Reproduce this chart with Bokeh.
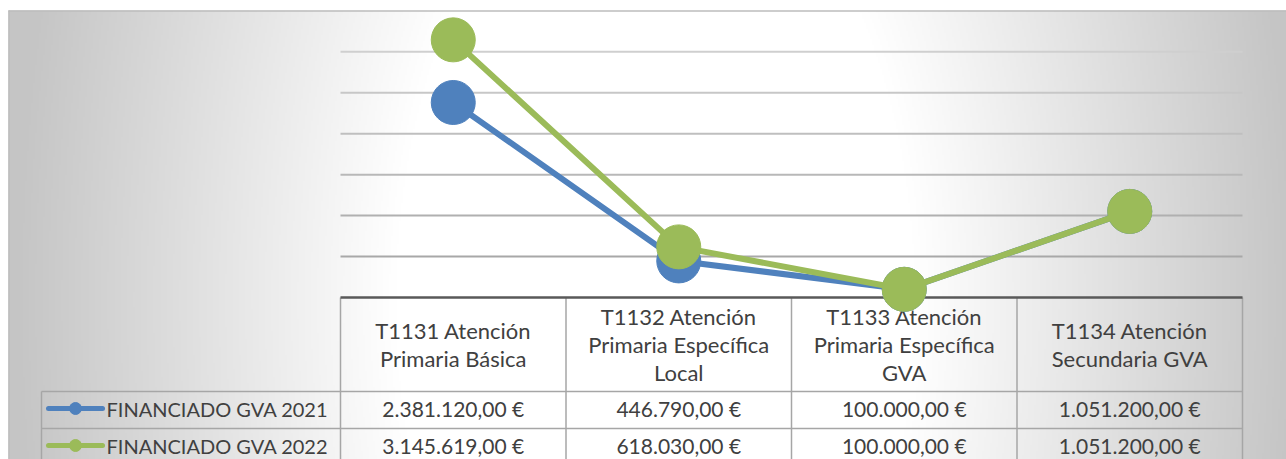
import numpy as np
from bokeh.plotting import figure
from bokeh.models import Range1d
from bokeh.embed import file_html
from bokeh.resources import INLINE
from bokeh.core.properties import value

# ---------------- data ----------------
categories = [
    "T1131 Atención\nPrimaria Básica",
    "T1132 Atención\nPrimaria Específica\nLocal",
    "T1133 Atención\nPrimaria Específica\nGVA",
    "T1134 Atención\nSecundaria GVA",
]
series_names = ["FINANCIADO GVA 2021", "FINANCIADO GVA 2022"]
gva_2021 = [2381120.00, 446790.00, 100000.00, 1051200.00]
gva_2022 = [3145619.00, 618030.00, 100000.00, 1051200.00]
grid_values = [500000, 1000000, 1500000, 2000000, 2500000, 3000000]

series = [gva_2021, gva_2022]
colors = ["#4F81BD", "#9BBB59"]
FONT = value("Lato")
TXT = "#404040"


def euro(v):
    s = f"{v:,.2f}"
    return s.replace(",", "X").replace(".", ",").replace("X", ".") + " €"


# ---------------- geometry (canvas pixels) ----------------
W, H = 1286, 459
COL0, COLW = 452.75, 225.5      # centre of first category column, column width
Y0, PPM = 297.0, 81.9          # canvas y of value 0, pixels per million


def X(px):
    return (px - COL0) / COLW


def T(py):  # canvas y -> table range
    return H - py


ymax = Y0 / PPM * 1e6
ymin = -(H - Y0) / PPM * 1e6

p = figure(width=W, height=H, x_range=Range1d(X(0), X(W)),
           y_range=Range1d(ymin, ymax), output_backend="svg",
           toolbar_location=None, x_axis_location=None, y_axis_location=None,
           min_border=0, min_border_left=0, min_border_right=0,
           min_border_top=0, min_border_bottom=0,
           background_fill_color="white", border_fill_color="white",
           outline_line_color=None)
p.extra_y_ranges = {"py": Range1d(0, H)}
p.grid.visible = False

# ---------------- background gradient ----------------
top, left = 10, 8
rows, cols = 225, 639
pyy = H - (np.arange(rows) + 0.5) * (H - top) / rows
pxx = left + (np.arange(cols) + 0.5) * (W - left) / cols
GX, GY = np.meshgrid(pxx, pyy)
t = np.sqrt(((GX - 655) / 640) ** 2 + ((GY - 300) / 1160) ** 2)
t0 = 0.406
f = np.clip((t - t0) / (1 - t0), 0, 1)
g = (255 - (255 - 197) * f).astype(np.uint8)
img = np.empty((rows, cols), dtype=np.uint32)
view = img.view(dtype=np.uint8).reshape((rows, cols, 4))
view[..., 0] = g
view[..., 1] = g
view[..., 2] = g
view[..., 3] = 255
p.image_rgba(image=[img], x=X(left), y=0, dw=X(W) - X(left), dh=H - top, y_range_name="py")

# chart border (top / left)
p.line(x=[X(left), X(W)], y=[T(top + 0.5), T(top + 0.5)], y_range_name="py",
       line_color="#bdbdbd", line_width=1.5)
p.line(x=[X(left + 0.5), X(left + 0.5)], y=[T(top), T(H)], y_range_name="py",
       line_color="#bdbdbd", line_width=1.5)

# ---------------- gridlines ----------------
n = len(grid_values)
gcols = []
for i in range(n):
    c = int(round(0xCF - (0xCF - 0xA8) * i / (n - 1)))
    gcols.append(f"#{c:02x}{c:02x}{c:02x}")
gcols = gcols[::-1]
p.segment(x0=[-0.5] * n, x1=[3.5] * n, y0=grid_values, y1=grid_values,
          line_color=gcols, line_width=2)

# ---------------- data table ----------------
TL = "#a6a6a6"
edges = [-0.5, 0.5, 1.5, 2.5, 3.5]
p.segment(x0=edges, x1=edges, y0=[T(297)] * 5, y1=[T(H)] * 5,
          y_range_name="py", line_color=TL, line_width=1.5)
p.segment(x0=[X(41), X(41)], x1=[3.5, 3.5], y0=[T(391), T(428)], y1=[T(391), T(428)],
          y_range_name="py", line_color=TL, line_width=1.5)
p.segment(x0=[X(41)], x1=[X(41)], y0=[T(391)], y1=[T(H)],
          y_range_name="py", line_color=TL, line_width=1.5)

# category axis line
p.line(x=[-0.5, 3.5], y=[0, 0], line_color="#595959", line_width=2.5)

# headers
hx, hy, ht = [], [], []
for i, c in enumerate(categories):
    lines = c.split("\n")
    k = len(lines)
    for j, ln in enumerate(lines):
        hx.append(i)
        hy.append(T(344 + (j - (k - 1) / 2) * 28))
        ht.append(ln)
p.text(x=hx, y=hy, text=ht, y_range_name="py", text_font=FONT, text_font_size="22px",
       text_align="center", text_baseline="middle", text_color=TXT)

row_y = [408, 445]
for r, (vals, name, col) in enumerate(zip(series, series_names, colors)):
    yy = T(row_y[r])
    p.text(x=list(range(len(vals))), y=[yy] * len(vals), text=[euro(v) for v in vals],
           y_range_name="py", text_font=FONT, text_font_size="21px",
           text_align="center", text_baseline="middle", text_color=TXT)
    # legend key
    p.line(x=[X(48), X(102)], y=[yy, yy], y_range_name="py", line_color=col,
           line_width=5, line_cap="round")
    p.scatter(x=[X(75)], y=[yy], y_range_name="py", size=12, marker="circle",
              fill_color=col, line_color=col)
    p.text(x=[X(106)], y=[yy], text=[name], y_range_name="py", text_font=FONT,
           text_font_size="20px", text_align="left", text_baseline="middle",
           text_color=TXT)

# ---------------- series ----------------
xs = list(range(len(categories)))
for vals, col in zip(series, colors):
    p.line(x=xs, y=vals, line_color=col, line_width=6)
    p.scatter(x=xs, y=vals, size=44, marker="circle", fill_color=col, line_color=col)

open("out.html", "w").write(file_html(p, INLINE))
